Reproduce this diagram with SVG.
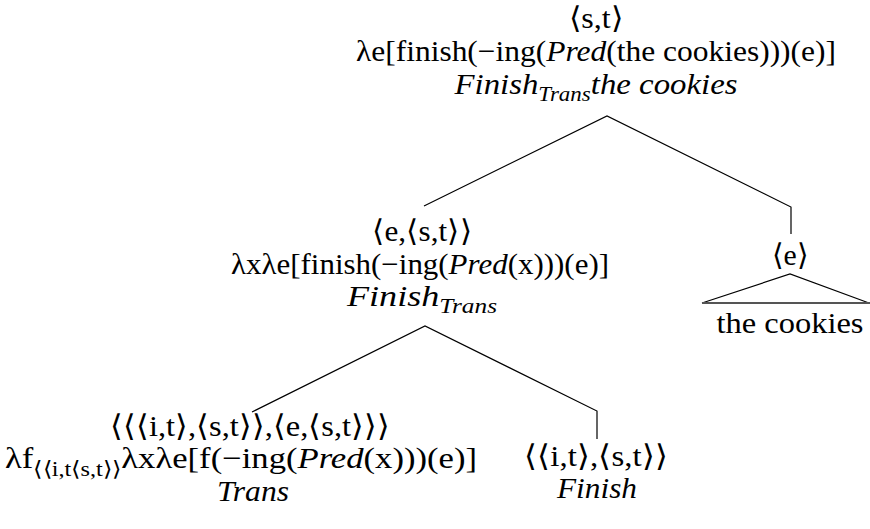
<svg xmlns="http://www.w3.org/2000/svg" width="870" height="529" viewBox="0 0 870 529">
<style>
text{font-family:"Liberation Serif","Times New Roman",serif;font-size:30px;fill:#000;text-anchor:middle}
.i{font-style:italic}
.s{font-size:21px}
.e{fill:none;stroke:#000;stroke-width:1.2}
.b{fill:none;stroke:#555;stroke-width:2}
</style>
<rect width="870" height="529" fill="#fff"/>
<g id="connectors">
<path class="e" d="M424,206 L607,116 L791,207 L791,234"/>
<path class="e" d="M252,412 L425,326 L597,411 L597,439"/>
<path class="e" d="M702,303 L790,274 L869,303"/>
<path class="b" d="M702,303 H870"/>
</g>
<g id="n-top">
<text x="596" y="28" textLength="55" lengthAdjust="spacingAndGlyphs">⟨s,t⟩</text>
<text x="596" y="61" textLength="480" lengthAdjust="spacingAndGlyphs">λe[finish(−ing(<tspan class="i">Pred</tspan>(the cookies)))(e)]</text>
<text x="596" y="94" textLength="283" lengthAdjust="spacingAndGlyphs"><tspan class="i">Finish</tspan><tspan class="i s" dy="7">Trans</tspan><tspan class="i" dy="-7">the cookies</tspan></text>
</g>
<g id="n-mid">
<text x="422" y="241" textLength="100" lengthAdjust="spacingAndGlyphs">⟨e,⟨s,t⟩⟩</text>
<text x="420" y="274" textLength="378" lengthAdjust="spacingAndGlyphs">λxλe[finish(−ing(<tspan class="i">Pred</tspan>(x)))(e)]</text>
<text x="422" y="306" textLength="150" lengthAdjust="spacingAndGlyphs"><tspan class="i">Finish</tspan><tspan class="i s" dy="7">Trans</tspan></text>
</g>
<g id="n-e">
<text x="790" y="265" textLength="37" lengthAdjust="spacingAndGlyphs">⟨e⟩</text>
<text x="790" y="333" textLength="147" lengthAdjust="spacingAndGlyphs">the cookies</text>
</g>
<g id="n-trans">
<text x="250" y="436" textLength="280" lengthAdjust="spacingAndGlyphs">⟨⟨⟨i,t⟩,⟨s,t⟩⟩,⟨e,⟨s,t⟩⟩⟩</text>
<text x="241" y="468" textLength="472" lengthAdjust="spacingAndGlyphs">λf<tspan class="s" dy="8">⟨⟨i,t⟨s,t⟩⟩</tspan><tspan dy="-8">λxλe[f(−ing(</tspan><tspan class="i">Pred</tspan>(x)))(e)]</text>
<text x="253" y="501" textLength="72" lengthAdjust="spacingAndGlyphs" class="i">Trans</text>
</g>
<g id="n-finish">
<text x="596" y="466" textLength="144" lengthAdjust="spacingAndGlyphs">⟨⟨i,t⟩,⟨s,t⟩⟩</text>
<text x="597" y="498" textLength="80" lengthAdjust="spacingAndGlyphs" class="i">Finish</text>
</g>
</svg>
